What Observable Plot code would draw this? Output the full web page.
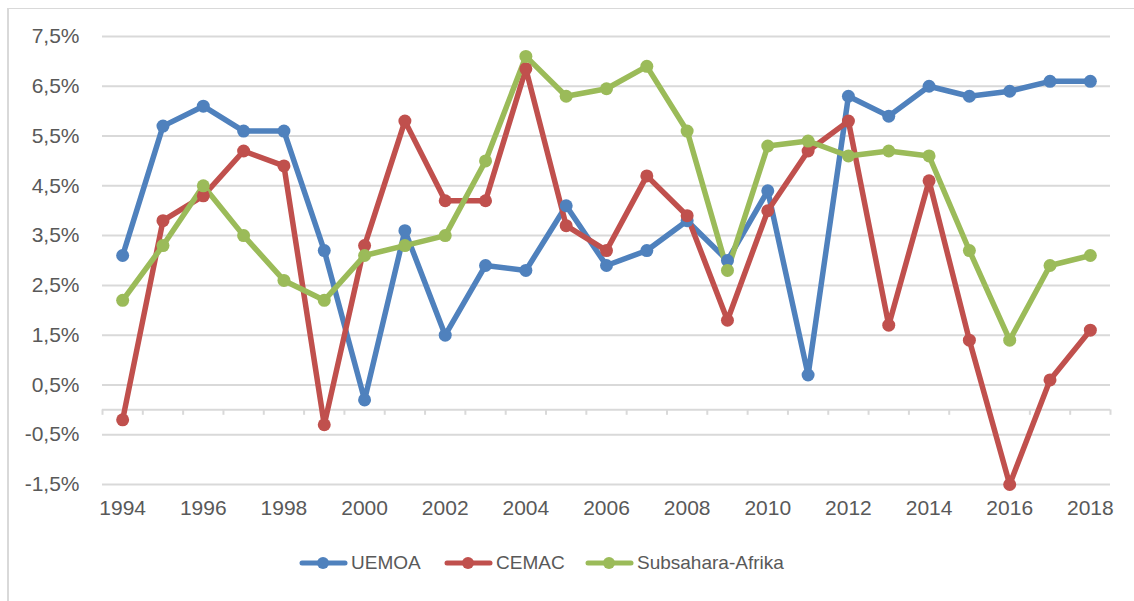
<!DOCTYPE html>
<html>
<head>
<meta charset="utf-8">
<script src="https://cdn.jsdelivr.net/npm/d3@7"></script>
<script src="https://cdn.jsdelivr.net/npm/@observablehq/plot@0.6"></script>
<style>
  html, body { margin: 0; padding: 0; background: #fff; }
  #wrap { position: relative; width: 1134px; height: 601px; overflow: hidden; font-family: "Liberation Sans", Arial, sans-serif; }
  #frameTop { position: absolute; left: 7px; top: 8px; right: 0; height: 0; border-top: 1px solid #d9d9d9; }
  #frameLeft { position: absolute; left: 7px; top: 8px; bottom: 0; width: 0; border-left: 2px solid #d9d9d9; }
  #chart { position: absolute; left: 0; top: 0; }
  #legend { position: absolute; left: 299px; top: 552px; font-size: 19px; color: #595959; }
  .item { display: flex; align-items: center; position: absolute; top: 0; white-space: nowrap; }
  .item svg { display: block; margin-right: 3px; }
</style>
</head>
<body>
<div id="wrap">
  <div id="frameTop"></div>
  <div id="frameLeft"></div>
  <div id="chart"></div>
  <div id="legend"></div>
</div>
<script>
const years = [1994,1995,1996,1997,1998,1999,2000,2001,2002,2003,2004,2005,2006,2007,2008,2009,2010,2011,2012,2013,2014,2015,2016,2017,2018];
const seriesNames = ["UEMOA", "CEMAC", "Subsahara-Afrika"];
const uemoa = [3.1,5.7,6.1,5.6,5.6,3.2,0.2,3.6,1.5,2.9,2.8,4.1,2.9,3.2,3.8,3.0,4.4,0.7,6.3,5.9,6.5,6.3,6.4,6.6,6.6];
const cemac = [-0.2,3.8,4.3,5.2,4.9,-0.3,3.3,5.8,4.2,4.2,6.85,3.7,3.2,4.7,3.9,1.8,4.0,5.2,5.8,1.7,4.6,1.4,-1.5,0.6,1.6];
const ssa   = [2.2,3.3,4.5,3.5,2.6,2.2,3.1,3.3,3.5,5.0,7.1,6.3,6.45,6.9,5.6,2.8,5.3,5.4,5.1,5.2,5.1,3.2,1.4,2.9,3.1];
const yTicks = [-1.5,-0.5,0.5,1.5,2.5,3.5,4.5,5.5,6.5,7.5];
const xLabelYears = [1994,1996,1998,2000,2002,2004,2006,2008,2010,2012,2014,2016,2018];
const colors = ["#4f81bd", "#c0504d", "#9bbb59"];

const values = [uemoa, cemac, ssa];
const data = [];
seriesNames.forEach((s, i) => years.forEach((y, j) => data.push({series: s, year: y, value: values[i][j]})));
const tickMarks = d3.range(years[0] - 0.5, years[years.length - 1] + 1, 1);

const fmt = d => d.toFixed(1).replace(".", ",") + "%";

const chart = Plot.plot({
  width: 1134,
  height: 530,
  marginLeft: 102,
  marginRight: 24,
  marginTop: 36,
  marginBottom: 46,
  style: {fontFamily: "'Liberation Sans', Arial, sans-serif", fontSize: "21px", color: "#595959", background: "transparent"},
  x: {domain: [1993.5, 2018.5]},
  y: {domain: [-1.5, 7.5]},
  color: {domain: seriesNames, range: colors},
  marks: [
    Plot.ruleY(yTicks, {stroke: "#d9d9d9", strokeWidth: 2}),
    Plot.ruleY([0], {stroke: "#d9d9d9", strokeWidth: 2}),
    Plot.ruleX(tickMarks, {x: d => d, y1: 0, y2: -0.11, stroke: "#d9d9d9", strokeWidth: 2}),
    Plot.axisY(yTicks, {tickSize: 0, tickPadding: 23, tickFormat: fmt, fontSize: 21, fill: "#595959", label: null}),
    Plot.axisX(xLabelYears, {tickSize: 0, tickPadding: 16, tickFormat: d => String(d), fontSize: 21, fill: "#595959", label: null}),
    Plot.line(data, {x: "year", y: "value", z: "series", stroke: "series", strokeWidth: 5.5, strokeLinejoin: "round", strokeLinecap: "round"}),
    Plot.dot(data, {x: "year", y: "value", fill: "series", r: 6.5})
  ]
});
document.getElementById("chart").appendChild(chart);

// legend
const legend = document.getElementById("legend");
const starts = [0, 145, 286];
seriesNames.forEach((name, i) => {
  const item = document.createElement("div");
  item.className = "item";
  item.style.left = starts[i] + "px";
  const sw = d3.create("svg").attr("width", 49).attr("height", 14);
  sw.append("line").attr("x1", 3).attr("x2", 46).attr("y1", 7).attr("y2", 7)
    .attr("stroke", colors[i]).attr("stroke-width", 5).attr("stroke-linecap", "round");
  sw.append("circle").attr("cx", 24).attr("cy", 7).attr("r", 6).attr("fill", colors[i]);
  item.appendChild(sw.node());
  const t = document.createElement("span");
  t.textContent = name;
  item.appendChild(t);
  legend.appendChild(item);
});
</script>
</body>
</html>
